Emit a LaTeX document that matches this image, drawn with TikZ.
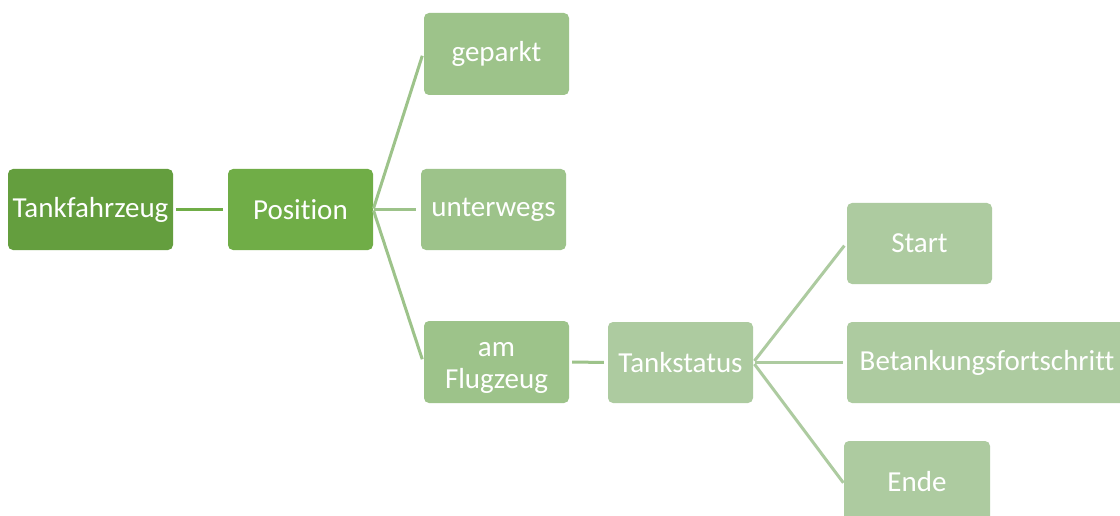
\documentclass[tikz,border=0pt]{standalone}
\usepackage{fontspec}
\setmainfont[Ligatures=CommonOff]{Carlito}
\begin{document}
\begin{tikzpicture}[x=1pt,y=-1pt,
  box/.style={rounded corners=5pt, text=white, inner sep=0pt,
    minimum width=145pt, minimum height=81pt, align=center,
    font=\fontsize{29}{32}\selectfont},
  lvlzero/.style={box, fill=darkgreen},
  lvlone/.style={box, fill=midgreen},
  lvltwo/.style={box, fill=lightgreen},
  lvlthree/.style={box, fill=palegreen},
  link/.style={line width=3pt},
]
\definecolor{darkgreen}{HTML}{649E3E}
\definecolor{midgreen}{HTML}{70AD47}
\definecolor{lightgreen}{HTML}{9DC38A}
\definecolor{palegreen}{HTML}{ADCBA0}

\clip (0,0) rectangle (1120,516);
\fill[white] (0,0) rectangle (1120,516);

% root and first level
\node[lvlzero, minimum width=165pt] (tf) at (90.5,209.5) {Tankfahrzeug};
\node[lvlone] (pos) at (300.5,209.5) {Position};

% position states
\node[lvltwo, minimum height=82pt] (gep) at (496.5,54) {geparkt};
\node[lvltwo] (unt) at (493.5,209.5) {unterwegs};
\node[lvltwo, minimum height=82pt, align=none] (amf) at (496.5,362)
  {\raisebox{-4pt}[\height][\depth]{\begin{tabular}{@{}c@{}}am\\Flugzeug\end{tabular}}};

% refuelling status
\node[lvlthree] (tks) at (680.5,362.5) {Tankstatus};
\node[lvlthree] (start) at (919.5,243.5) {Start};
\node[lvlthree, minimum width=280pt] (bet) at (987,362.5) {Betankungsfortschritt};
\node[lvlthree, minimum width=146pt, minimum height=84pt] (ende) at (917,483) {\raisebox{3pt}{Ende}};

% connectors
\draw[link, midgreen, shorten <=3pt, shorten >=5pt] (tf.east) -- (pos.west);
\draw[link, lightgreen, shorten <=1pt, shorten >=5pt] (pos.east) -- ([yshift=3pt]gep.west);
\draw[link, lightgreen, shorten <=1pt, shorten >=5pt] (pos.east) -- (unt.west);
\draw[link, lightgreen, shorten <=1pt, shorten >=5pt] (pos.east) -- ([yshift=-2pt]amf.west);
\draw[link, lightgreen, shorten <=3pt, shorten >=4pt] (amf.east) -- (tks.west);
\draw[link, palegreen, shorten <=2pt, shorten >=4pt] (tks.east) -- ([yshift=1pt]start.west);
\draw[link, palegreen, shorten <=2pt, shorten >=4pt] (tks.east) -- (bet.west);
\draw[link, palegreen, shorten <=2pt, shorten >=4pt] (tks.east) -- ([yshift=-3pt,xshift=2pt]ende.west);
\end{tikzpicture}
\end{document}
